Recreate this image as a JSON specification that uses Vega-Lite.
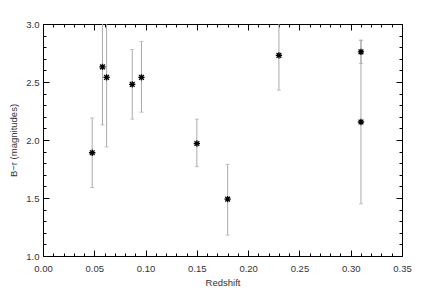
{
  "$schema": "https://vega.github.io/schema/vega-lite/v6.json",
  "width": 359,
  "height": 232,
  "autosize": "none",
  "padding": {"left": 43, "top": 24, "right": 22, "bottom": 34},
  "background": "white",
  "config": {
    "view": {"stroke": "#000", "strokeWidth": 1},
    "axis": {
      "grid": false,
      "domain": false,
      "labelColor": "#333",
      "titleColor": "#333",
      "labelFont": "Liberation Sans",
      "titleFont": "Liberation Sans",
      "labelFontSize": 9.5,
      "titleFontSize": 9.5,
      "titleFontWeight": "normal"
    }
  },
  "data": {
    "values": [
      {"z": 0.048, "br": 1.89, "lo": 1.59, "hi": 2.19},
      {"z": 0.058, "br": 2.63, "lo": 2.13, "hi": 3.13},
      {"z": 0.062, "br": 2.54, "lo": 1.94, "hi": 3.14},
      {"z": 0.087, "br": 2.48, "lo": 2.18, "hi": 2.78},
      {"z": 0.096, "br": 2.54, "lo": 2.24, "hi": 2.85},
      {"z": 0.150, "br": 1.97, "lo": 1.77, "hi": 2.18},
      {"z": 0.180, "br": 1.49, "lo": 1.18, "hi": 1.79},
      {"z": 0.230, "br": 2.73, "lo": 2.43, "hi": 3.03},
      {"z": 0.310, "br": 2.76, "lo": 2.66, "hi": 2.86},
      {"z": 0.310, "br": 2.155, "lo": 1.45, "hi": 2.86}
    ]
  },
  "resolve": {"axis": {"x": "independent", "y": "independent"}},
  "layer": [
    {
      "mark": {"type": "rule", "color": "#aaa", "strokeWidth": 1},
      "encoding": {
        "x": {
          "field": "z", "type": "quantitative",
          "scale": {"domain": [0, 0.35], "nice": false, "zero": false},
          "axis": {
            "orient": "bottom",
            "title": "Redshift",
            "values": [0, 0.05, 0.1, 0.15, 0.2, 0.25, 0.3, 0.35],
            "format": ".2f",
            "ticks": true,
            "tickColor": "black",
            "tickWidth": 1,
            "offset": -6,
            "tickSize": 6,
            "labelPadding": 7,
            "labelFlush": false,
            "labelOverlap": false,
            "titlePadding": 5
          }
        },
        "y": {
          "field": "lo", "type": "quantitative",
          "scale": {"domain": [1, 3], "nice": false, "zero": false, "clamp": true},
          "axis": {
            "orient": "left",
            "title": "B−r (magnitudes)",
            "values": [1, 1.5, 2, 2.5, 3],
            "format": ".1f",
            "ticks": true,
            "tickColor": "black",
            "tickWidth": 1,
            "offset": -6,
            "tickSize": 6,
            "labelPadding": 4,
            "labelFlush": false,
            "labelOverlap": false,
            "titlePadding": 7
          }
        },
        "y2": {"field": "hi"}
      }
    },
    {
      "mark": {"type": "tick", "color": "#aaa", "thickness": 1, "size": 4, "orient": "horizontal"},
      "encoding": {
        "x": {
          "field": "z", "type": "quantitative",
          "axis": {
            "orient": "bottom", "title": null, "labels": false, "ticks": true, "tickColor": "black", "tickWidth": 1, "offset": -3, "tickSize": 3,
            "values": [0.01,0.02,0.03,0.04,0.06,0.07,0.08,0.09,0.11,0.12,0.13,0.14,0.16,0.17,0.18,0.19,0.21,0.22,0.23,0.24,0.26,0.27,0.28,0.29,0.31,0.32,0.33,0.34]
          }
        },
        "y": {
          "field": "lo", "type": "quantitative",
          "axis": {
            "orient": "left", "title": null, "labels": false, "ticks": true, "tickColor": "black", "tickWidth": 1, "offset": -3, "tickSize": 3,
            "values": [1.1,1.2,1.3,1.4,1.6,1.7,1.8,1.9,2.1,2.2,2.3,2.4,2.6,2.7,2.8,2.9]
          }
        }
      }
    },
    {
      "transform": [{"filter": "datum.hi <= 3"}],
      "mark": {"type": "tick", "color": "#aaa", "thickness": 1, "size": 4, "orient": "horizontal"},
      "encoding": {
        "x": {
          "field": "z", "type": "quantitative",
          "axis": {
            "orient": "top", "title": null, "labels": false, "ticks": true, "tickColor": "black", "tickWidth": 1, "offset": -6, "tickSize": 6,
            "values": [0, 0.05, 0.1, 0.15, 0.2, 0.25, 0.3, 0.35]
          }
        },
        "y": {
          "field": "hi", "type": "quantitative",
          "axis": {
            "orient": "right", "title": null, "labels": false, "ticks": true, "tickColor": "black", "tickWidth": 1, "offset": -6, "tickSize": 6,
            "values": [1, 1.5, 2, 2.5, 3]
          }
        }
      }
    },
    {
      "mark": {
        "type": "point",
        "shape": "M-1,0L1,0M0,-1L0,1M-0.75,-0.75L0.75,0.75M-0.75,0.75L0.75,-0.75",
        "filled": false,
        "color": "#000",
        "strokeWidth": 1.3,
        "size": 40,
        "opacity": 1
      },
      "encoding": {
        "x": {
          "field": "z", "type": "quantitative",
          "axis": {
            "orient": "top", "title": null, "labels": false, "ticks": true, "tickColor": "black", "tickWidth": 1, "offset": -3, "tickSize": 3,
            "values": [0.01,0.02,0.03,0.04,0.06,0.07,0.08,0.09,0.11,0.12,0.13,0.14,0.16,0.17,0.18,0.19,0.21,0.22,0.23,0.24,0.26,0.27,0.28,0.29,0.31,0.32,0.33,0.34]
          }
        },
        "y": {
          "field": "br", "type": "quantitative",
          "axis": {
            "orient": "right", "title": null, "labels": false, "ticks": true, "tickColor": "black", "tickWidth": 1, "offset": -3, "tickSize": 3,
            "values": [1.1,1.2,1.3,1.4,1.6,1.7,1.8,1.9,2.1,2.2,2.3,2.4,2.6,2.7,2.8,2.9]
          }
        }
      }
    }
  ]
}
